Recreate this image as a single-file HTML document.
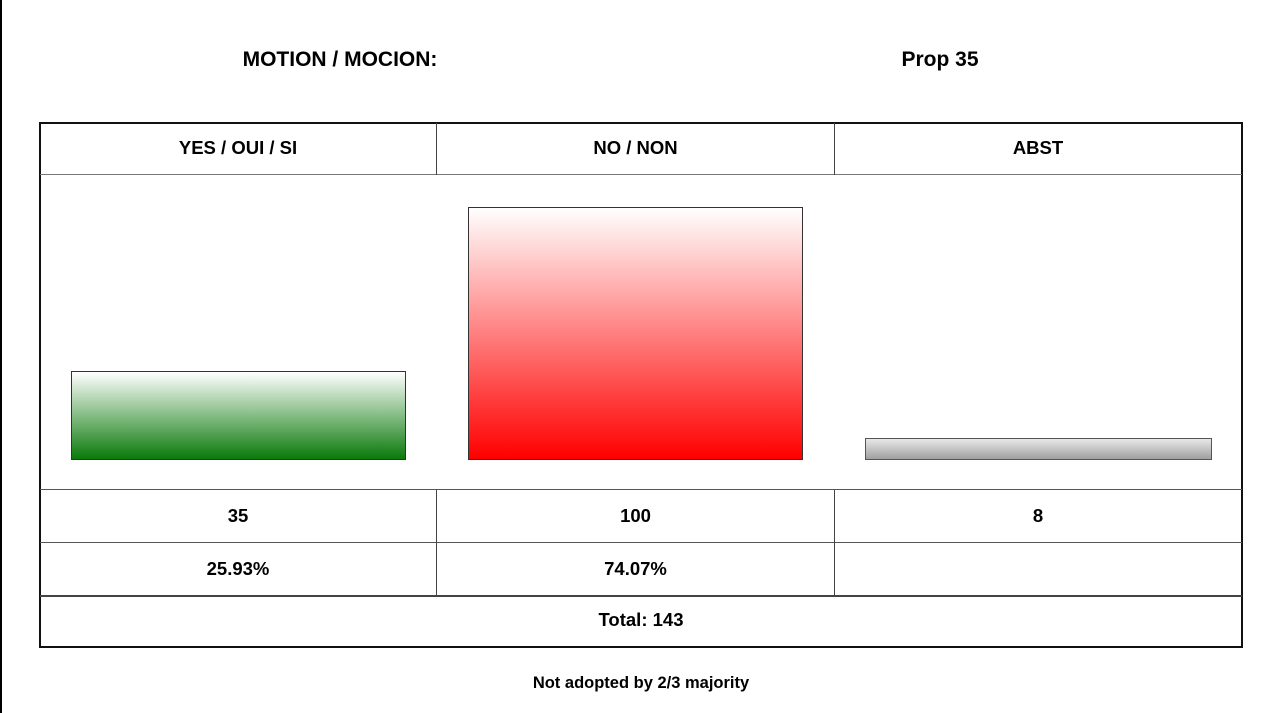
<!DOCTYPE html>
<html><head><style>
body{margin:0;width:1275px;height:713px;background:#fff;position:relative;overflow:hidden;font-family:"Liberation Sans",Arial,sans-serif;font-weight:bold;color:#000}
.a{position:absolute}
.t{position:absolute;text-align:center;font-size:18.5px}
.h{position:absolute;background:#444;height:2px}
.v{position:absolute;background:#444;width:1px}
</style></head><body>
<div class="a" style="left:0;top:0;width:2px;height:713px;background:#000"></div>
<div class="t" style="left:190px;width:300px;top:48px;font-size:21px">MOTION / MOCION:</div>
<div class="t" style="left:840px;width:200px;top:48px;font-size:21px">Prop 35</div>
<div class="a" style="left:39px;top:122px;width:1200px;height:522px;border:2px solid #111"></div>
<div class="h" style="left:40px;width:1202px;top:174px;height:1px;background:#777"></div>
<div class="h" style="left:40px;width:1202px;top:489px;height:1px;background:#555"></div>
<div class="h" style="left:40px;width:1202px;top:542px;height:1px;background:#555"></div>
<div class="h" style="left:40px;width:1202px;top:595px;height:2px"></div>
<div class="v" style="left:436px;top:123px;height:52px"></div>
<div class="v" style="left:834px;top:123px;height:52px"></div>
<div class="v" style="left:436px;top:490px;height:106px"></div>
<div class="v" style="left:834px;top:490px;height:106px"></div>
<div class="t" style="left:40px;width:396px;top:137px">YES / OUI / SI</div>
<div class="t" style="left:437px;width:397px;top:137px">NO / NON</div>
<div class="t" style="left:835px;width:406px;top:137px">ABST</div>
<div class="a" style="left:71px;top:371px;width:333px;height:87px;border:1px solid #333;background:linear-gradient(#fff,#0a7a0a)"></div>
<div class="a" style="left:468px;top:207px;width:333px;height:251px;border:1px solid #333;background:linear-gradient(#fff,#ff0000)"></div>
<div class="a" style="left:865px;top:438px;width:345px;height:20px;border:1px solid #555;background:linear-gradient(#e8e8e8,#a0a0a0)"></div>
<div class="t" style="left:40px;width:396px;top:505px">35</div>
<div class="t" style="left:437px;width:397px;top:505px">100</div>
<div class="t" style="left:835px;width:406px;top:505px">8</div>
<div class="t" style="left:40px;width:396px;top:558px">25.93%</div>
<div class="t" style="left:437px;width:397px;top:558px">74.07%</div>
<div class="t" style="left:40px;width:1202px;top:609px">Total: 143</div>
<div class="t" style="left:40px;width:1202px;top:674px;font-size:16.5px">Not adopted by 2/3 majority</div>
</body></html>
